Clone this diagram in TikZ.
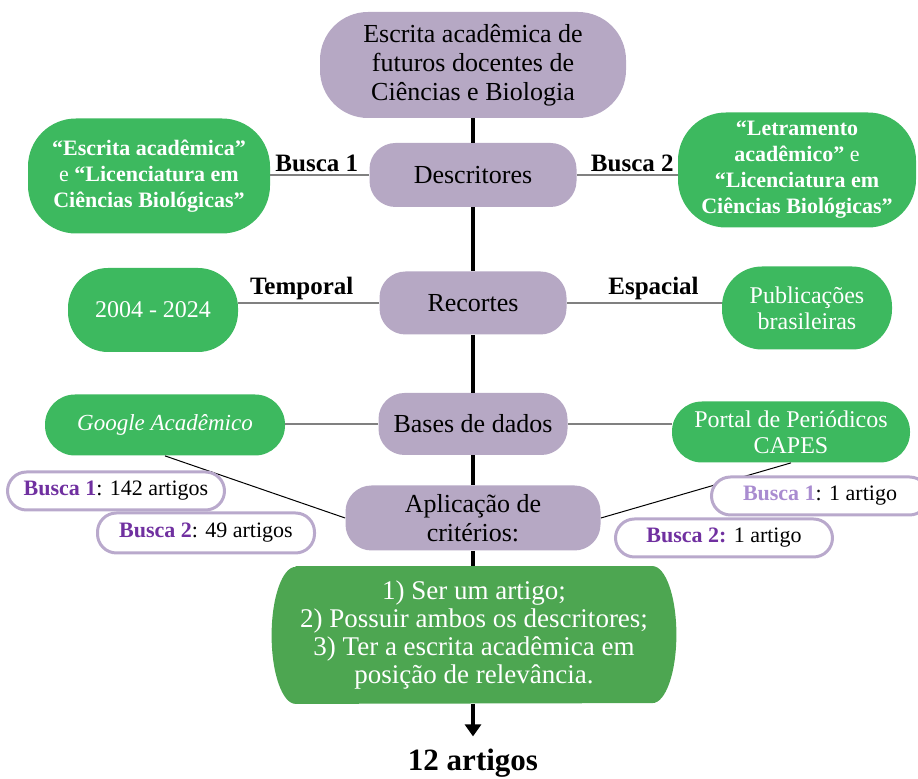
\documentclass[tikz,border=0pt]{standalone}
\usepackage{fontspec}
\setmainfont{Liberation Serif}
\usetikzlibrary{arrows.meta,shapes.misc}
\definecolor{HubLilac}{HTML}{B6A8C4}
\definecolor{LeafGreen}{HTML}{3DB95F}
\definecolor{RuleGreen}{HTML}{4DA651}
\definecolor{PillLilac}{HTML}{B9A9CC}
\definecolor{DeepPurple}{HTML}{7030A0}
\definecolor{SoftPurple}{HTML}{A98CD0}

\begin{document}
\begin{tikzpicture}[x=0.5pt,y=-0.5pt,
  hub/.style={fill=HubLilac,rounded corners=13pt,align=center,inner sep=0pt,font=\fontsize{13}{14.5}\selectfont},
  leaf/.style={fill=LeafGreen,text=white,rounded corners=20pt,align=center,inner sep=0pt,font=\fontsize{12}{13}\selectfont},
  pill/.style={draw=PillLilac,line width=1.5pt,fill=white,rounded corners=9.5pt,minimum width=108.5pt,minimum height=19pt,inner sep=0pt,font=\fontsize{11}{13}\selectfont},
  tag/.style={font=\bfseries\fontsize{12.5}{14}\selectfont,inner sep=1pt},
  link/.style={draw=black!50,line width=0.8pt},
  tie/.style={draw=black,line width=0.5pt},
  spine/.style={draw=black,line width=2pt}
]
\useasboundingbox (0,0) rectangle (918,779);
\clip (0,0) rectangle (918,779);

% central column
\node[hub,minimum width=153pt,minimum height=53pt,rounded corners=24pt] (top) at (473,65) {Escrita acadêmica de\\futuros docentes de\\Ciências e Biologia};
\node[hub,minimum width=103.5pt,minimum height=32pt] (desc) at (473,175) {Descritores};
\node[hub,minimum width=93.5pt,minimum height=31.5pt] (rec) at (473,303) {Recortes};
\node[hub,minimum width=94.5pt,minimum height=31pt] (bases) at (473,424) {Bases de dados};
\node[hub,minimum width=127.5pt,minimum height=32.5pt] (apl) at (473,518) {Aplicação de\\critérios:};
\node[minimum width=202pt,minimum height=68.5pt,inner sep=0pt] (crit) at (474,635) {};
\fill[RuleGreen] ([xshift=12pt]crit.north west) -- ([xshift=-12pt]crit.north east)
  arc[start angle=90,end angle=-90,x radius=12pt,y radius=34.25pt]
  -- ([xshift=12pt]crit.south west)
  arc[start angle=270,end angle=90,x radius=12pt,y radius=34.25pt] -- cycle;
\node[text=white,align=center,font=\fontsize{13.5}{14}\selectfont] (critx) at (crit) {1) Ser um artigo;\\2) Possuir ambos os descritores;\\3) Ter a escrita acadêmica em\\posição de relevância.};
\node[font=\bfseries\fontsize{15.5}{17}\selectfont,inner sep=1pt] (res) at (473,763) {12 artigos};

% side leaves
\node[leaf,minimum width=121pt,minimum height=57.5pt,rounded corners=24pt,font=\bfseries\fontsize{11}{13}\selectfont] (desc1) at (149,176) {“Escrita acadêmica”\\{\mdseries e} “Licenciatura em\\Ciências Biológicas”};
\node[leaf,minimum width=119pt,minimum height=57.5pt,rounded corners=24pt,font=\bfseries\fontsize{11}{13}\selectfont] (desc2) at (797,170) {“Letramento\\acadêmico” {\mdseries e}\\“Licenciatura em\\Ciências Biológicas”};
\node[leaf,minimum width=85pt,minimum height=42pt] (tmp) at (153,310) {2004 - 2024};
\node[leaf,minimum width=85pt,minimum height=41.5pt] (esp) at (807,308) {Publicações\\brasileiras};
\node[leaf,minimum width=120pt,minimum height=30.5pt,rounded corners=15pt,font=\itshape\fontsize{11.5}{13}\selectfont] (gs) at (165,425) {Google Acadêmico};
\node[leaf,minimum width=119pt,minimum height=30.5pt,rounded corners=15pt] (cp) at (791,432) {Portal de Periódicos\\CAPES};

% spine
\draw[spine] (top) -- (desc);
\draw[spine] (desc) -- (rec);
\draw[spine] (rec) -- (bases);
\draw[spine] (bases) -- (apl);
\draw[spine] (apl) -- (apl |- crit.north);
\draw[spine,-{Triangle[width=8pt,length=6pt]},shorten >=5pt] (crit.south -| res) -- (res);

% branches
\draw[link] (desc.west) -- node[tag,above,pos=0.53] {Busca 1} (desc.west -| desc1.east);
\draw[link] (desc.east) -- node[tag,above,pos=0.55] {Busca 2} (desc.east -| desc2.west);
\draw[link] (rec.west) -- node[tag,above,pos=0.55] {Temporal} (rec.west -| tmp.east);
\draw[link] (rec.east) -- node[tag,above,pos=0.56] {Espacial} (rec.east -| esp.west);
\draw[link] (bases.west) -- (bases.west -| gs.east);
\draw[link] (bases.east) -- (bases.east -| cp.west);
\draw[tie] (gs.south) -- (apl.west);
\draw[tie] (cp.south) -- (apl.east);

% counts
\node[pill] (gs1) at (116,491) {\textcolor{DeepPurple}{\textbf{Busca 1}}: 142 artigos};
\node[pill,minimum height=20pt] (gs2) at (206,533) {\textcolor{DeepPurple}{\textbf{Busca 2}}: 49 artigos};
\node[pill] (cp1) at (820,496) {\textcolor{SoftPurple}{\textbf{Busca 1}}: 1 artigo};
\node[pill] (cp2) at (724,538) {\textcolor{DeepPurple}{\textbf{Busca 2:}} 1 artigo};
\end{tikzpicture}
\end{document}
